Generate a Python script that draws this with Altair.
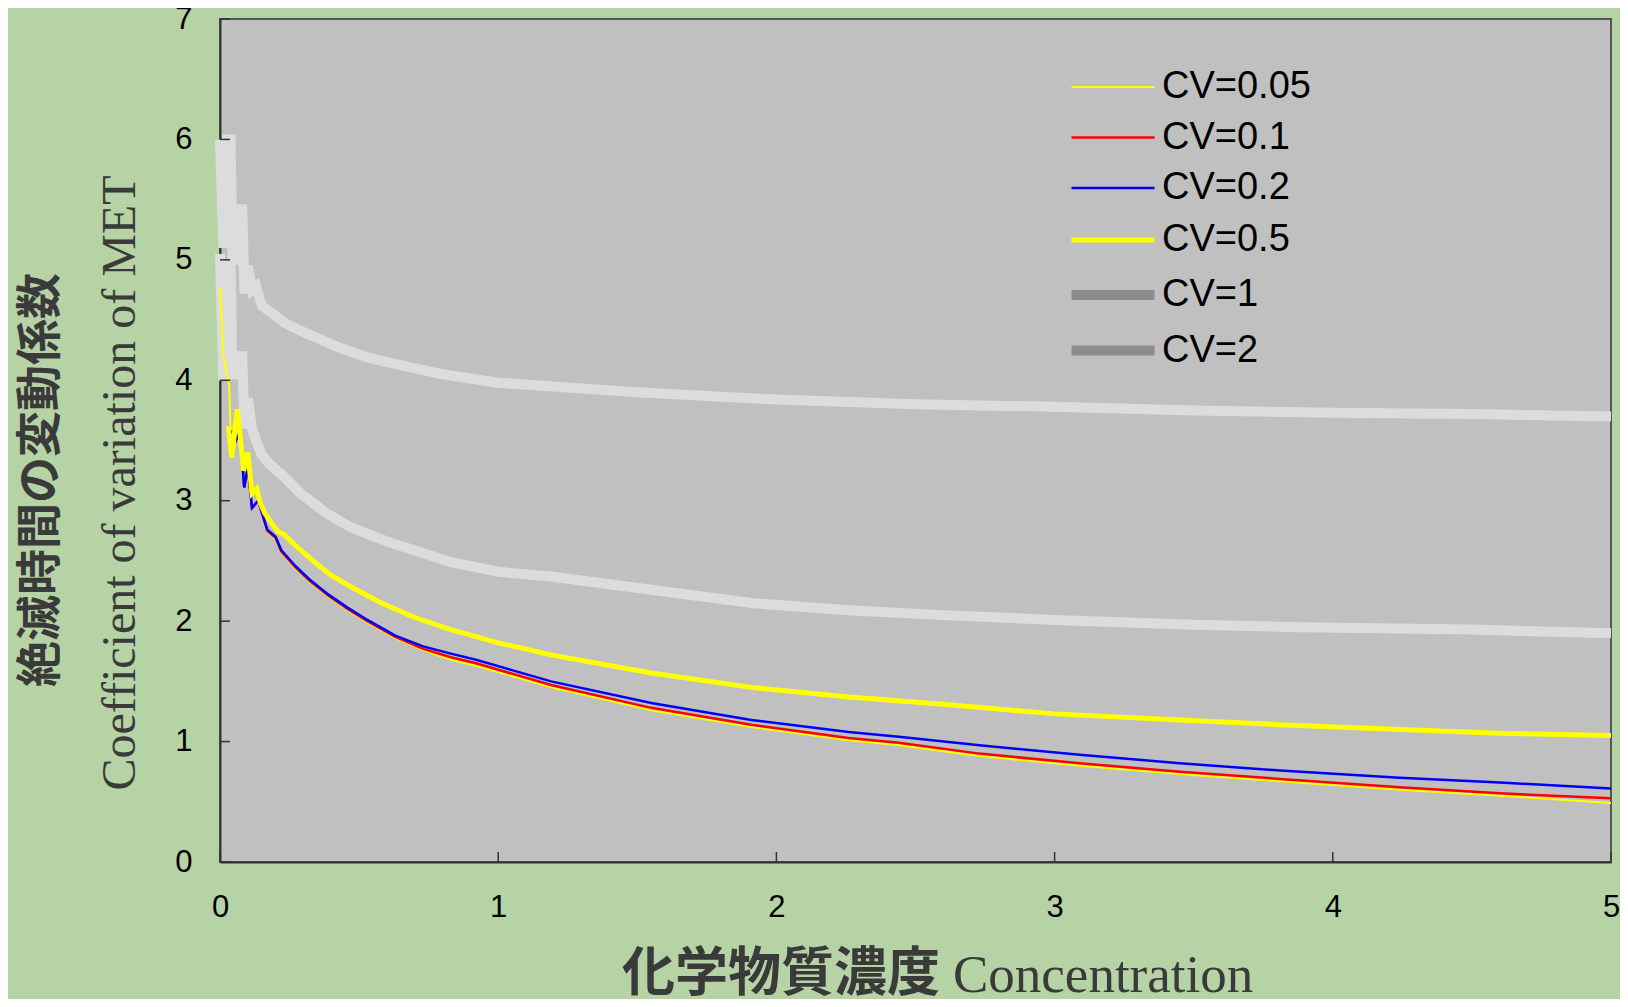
import altair as alt
import pandas as pd

# ---------------- data ----------------
series_names = ["CV=0.05", "CV=0.1", "CV=0.2", "CV=0.5", "CV=1", "CV=2"]
legend_colors = ["#ffff00", "#ff0000", "#0000ff", "#ffff00", "#8c8c8c", "#8c8c8c"]
line_widths = [2, 2.5, 2.5, 5, 10, 10]
gray_line = "#dcdcdc"

x_ticks = [0, 1, 2, 3, 4, 5]
y_ticks = [0, 1, 2, 3, 4, 5, 6, 7]

x_cv2 = [0, 0.012, 0.025, 0.038, 0.045, 0.062, 0.07, 0.08, 0.088, 0.1, 0.115, 0.13, 0.15, 0.18,
         0.23, 0.29, 0.35, 0.43, 0.53, 0.62, 0.8, 1.0, 1.25, 1.5, 2.0, 2.5, 3.0, 3.5, 4.0, 4.5, 5.0]
y_cv2 = [6.0, 5.1, 6.0, 6.0, 5.0, 5.0, 5.42, 5.42, 4.72, 4.95, 4.75, 4.78, 4.62, 4.57,
         4.48, 4.41, 4.35, 4.27, 4.19, 4.14, 4.05, 3.98, 3.94, 3.90, 3.84, 3.80, 3.78, 3.75, 3.73, 3.72, 3.70]

x_cv1 = [0, 0.012, 0.025, 0.038, 0.045, 0.062, 0.07, 0.08, 0.088, 0.1, 0.115, 0.13, 0.15, 0.18,
         0.23, 0.29, 0.38, 0.47, 0.59, 0.83, 1.0, 1.19, 1.55, 1.91, 2.26, 2.6, 3.0, 3.5, 3.88, 4.5, 5.0]
y_cv1 = [5.05, 4.0, 4.95, 4.95, 4.05, 4.05, 4.2, 4.2, 3.6, 3.85, 3.6, 3.5, 3.38, 3.3,
         3.2, 3.06, 2.9, 2.78, 2.67, 2.49, 2.41, 2.37, 2.26, 2.15, 2.09, 2.05, 2.01, 1.97, 1.95, 1.93, 1.90]

x_cv05 = [0.03, 0.042, 0.062, 0.072, 0.085, 0.1, 0.115, 0.132, 0.145, 0.16, 0.19, 0.21, 0.23, 0.27,
          0.34, 0.4, 0.49, 0.58, 0.7, 0.83, 1.0, 1.19, 1.55, 1.91, 2.26, 2.6, 3.0, 3.45, 3.81, 4.24, 4.6, 5.0]
y_cv05 = [3.62, 3.36, 3.76, 3.55, 3.25, 3.4, 3.06, 3.1, 2.98, 2.9, 2.8, 2.74, 2.72, 2.63,
          2.49, 2.38, 2.26, 2.15, 2.03, 1.93, 1.82, 1.72, 1.57, 1.45, 1.37, 1.31, 1.23, 1.18, 1.14, 1.10, 1.07, 1.05]

x_cv02 = [0.04, 0.057, 0.072, 0.087, 0.1, 0.115, 0.137, 0.17, 0.2, 0.22, 0.27, 0.32, 0.39, 0.46, 0.53,
          0.63, 0.73, 0.83, 0.92, 1.19, 1.55, 1.91, 2.26, 2.44, 2.73, 3.09, 3.45, 3.81, 4.24, 4.6, 5.0]
y_cv02 = [3.58, 3.5, 3.58, 3.11, 3.28, 2.94, 3.0, 2.76, 2.7, 2.59, 2.46, 2.35, 2.22, 2.11, 2.01,
          1.88, 1.79, 1.73, 1.68, 1.50, 1.32, 1.18, 1.08, 1.04, 0.97, 0.89, 0.82, 0.76, 0.70, 0.66, 0.61]

x_cv01 = [0.04, 0.057, 0.072, 0.087, 0.1, 0.115, 0.137, 0.17, 0.2, 0.22, 0.27, 0.32, 0.39, 0.46, 0.53,
          0.63, 0.73, 0.83, 0.92, 1.19, 1.55, 1.91, 2.26, 2.44, 2.73, 3.09, 3.45, 3.81, 4.24, 4.6, 5.0]
y_cv01 = [3.58, 3.5, 3.58, 3.11, 3.28, 2.94, 3.0, 2.75, 2.69, 2.58, 2.45, 2.34, 2.21, 2.10, 2.0,
          1.87, 1.77, 1.70, 1.65, 1.47, 1.28, 1.14, 1.03, 0.99, 0.90, 0.82, 0.75, 0.69, 0.62, 0.57, 0.53]

x_cv005 = [0, 0.012, 0.033, 0.04, 0.057, 0.072, 0.087, 0.1, 0.115, 0.137, 0.17, 0.2, 0.22, 0.27, 0.32,
           0.39, 0.46, 0.53, 0.63, 0.73, 0.83, 0.92, 1.19, 1.55, 1.91, 2.26, 2.44, 2.73, 3.09, 3.45,
           3.81, 4.24, 4.6, 5.0]
y_cv005 = [4.77, 4.2, 3.96, 3.45, 3.5, 3.58, 3.11, 3.28, 2.94, 3.0, 2.74, 2.68, 2.57, 2.44, 2.33,
           2.20, 2.09, 1.99, 1.86, 1.76, 1.68, 1.63, 1.45, 1.26, 1.12, 1.01, 0.97, 0.88, 0.80, 0.73,
           0.67, 0.60, 0.55, 0.49]

y_title_ja = "絶滅時間の変動係数"
y_title_en = "Coefficient of variation of MET"
x_title_ja = "化学物質濃度"
x_title_en = "Concentration"

# ---------------- layout ----------------
W, H = 1391, 843


def frame(name, xs, ys):
    return pd.DataFrame({"conc": xs, "cv": ys, "series": name})


def x_enc(field):
    return alt.X(field, type="quantitative", scale=alt.Scale(domain=[0, 5], nice=False, zero=False),
                 axis=alt.Axis(values=x_ticks, format="d", grid=False, ticks=False, domain=True,
                               domainColor="#333333", domainWidth=2, labelFont="Liberation Sans",
                               labelFontSize=31, labelColor="black", labelPadding=30,
                               labelFlush=False, labelOverlap=False, title=None))


def y_enc(field):
    return alt.Y(field, type="quantitative", scale=alt.Scale(domain=[0, 7], nice=False),
                 axis=alt.Axis(values=y_ticks, format="d", grid=False, ticks=False, domain=True,
                               domainColor="#333333", domainWidth=2, labelFont="Liberation Sans",
                               labelFontSize=31, labelColor="black", labelPadding=28,
                               labelFlush=False, labelOverlap=False, title=None))


legend = alt.Legend(title=None, orient="none", legendX=867, legendY=46, symbolType="M-2,0H2",
                    symbolSize=1722, labelFont="Liberation Sans", labelFontSize=38,
                    labelColor="black", rowPadding=9.5, labelOffset=23, padding=0,
                    labelBaseline="middle", labelLimit=400)

color_enc = alt.Color("series:N", scale=alt.Scale(domain=series_names, range=legend_colors), legend=legend)
width_enc = alt.StrokeWidth("series:N",
                            scale=alt.Scale(type="ordinal", domain=series_names, range=line_widths),
                            legend=legend)

layers = []
for name, xs, ys in [("CV=2", x_cv2, y_cv2), ("CV=1", x_cv1, y_cv1)]:
    layers.append(
        alt.Chart(frame(name, xs, ys)).mark_line(strokeJoin="miter", strokeCap="butt").encode(
            x=x_enc("conc"), y=y_enc("cv"), color=alt.value(gray_line), strokeWidth=width_enc,
            order="conc:Q")
    )
for name, xs, ys in [("CV=0.05", x_cv005, y_cv005), ("CV=0.1", x_cv01, y_cv01),
                     ("CV=0.2", x_cv02, y_cv02), ("CV=0.5", x_cv05, y_cv05)]:
    layers.append(
        alt.Chart(frame(name, xs, ys)).mark_line(strokeJoin="miter").encode(
            x=x_enc("conc"), y=y_enc("cv"), color=color_enc, strokeWidth=width_enc,
            order="conc:Q")
    )

# inward tick marks
ytick_df = pd.DataFrame({"v": y_ticks})
xtick_df = pd.DataFrame({"v": x_ticks})
layers.append(alt.Chart(ytick_df).mark_rule(color="#333333", strokeWidth=1.5).encode(
    y=y_enc("v"), x=alt.value(0), x2=alt.value(10)))
layers.append(alt.Chart(xtick_df).mark_rule(color="#333333", strokeWidth=1.5).encode(
    x=x_enc("v"), y=alt.value(H), y2=alt.value(H - 10)))

# axis titles
layers.append(alt.Chart(pd.DataFrame({"t": [y_title_ja]})).mark_text(
    font="Noto Sans CJK JP", fontWeight="bold", fontSize=46, color="#3a3a3a", angle=270,
    align="center", baseline="middle").encode(text="t:N", x=alt.value(-179), y=alt.value(461)))
layers.append(alt.Chart(pd.DataFrame({"t": [y_title_en]})).mark_text(
    font="Liberation Serif", fontSize=48, color="#3a3a3a", angle=270,
    align="center", baseline="middle").encode(text="t:N", x=alt.value(-99), y=alt.value(464)))
layers.append(alt.Chart(pd.DataFrame({"t": [x_title_ja]})).mark_text(
    font="Noto Sans CJK JP", fontWeight="bold", fontSize=53, color="#3a3a3a",
    align="center", baseline="alphabetic").encode(text="t:N", x=alt.value(561), y=alt.value(972)))
layers.append(alt.Chart(pd.DataFrame({"t": [x_title_en]})).mark_text(
    font="Liberation Serif", fontSize=53, color="#3a3a3a",
    align="left", baseline="alphabetic").encode(text="t:N", x=alt.value(733), y=alt.value(973)))

chart = alt.layer(*layers).properties(
    width=W, height=H,
    padding={"left": 212, "top": 11, "right": 9, "bottom": 137},
    autosize=alt.AutoSizeParams(type="none"),
    background="#b6d3a6",
).configure_view(fill="#c0c0c0", stroke="#555555", strokeWidth=2)

chart.save("out.html", embed_options={"renderer": "svg", "actions": False})
